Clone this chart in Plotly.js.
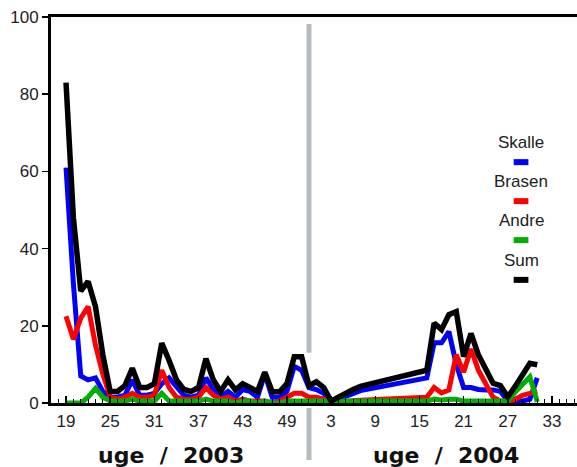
<!DOCTYPE html>
<html>
<head>
<meta charset="utf-8">
<script src="https://cdn.plot.ly/plotly-3.0.1.min.js"></script>
<style>html,body{margin:0;padding:0;background:#fff;}#chart{width:577px;height:467px;}</style>
</head>
<body>
<div id="chart"></div>
<script>
// ---- data ----
const weeks2003 = [19,20,21,22,23,24,25,26,27,28,29,30,31,32,33,34,35,36,37,38,39,40,41,42,43,44,45,46,47,48,49,50,51,52];
const skalle2003 = [61,31,7,6,6.5,3,1.5,1.5,2,6,2,2,2.5,5,6.5,4,2,1.5,2,6.5,3.5,1.5,3,1.5,3.5,3,1.5,7.5,1.5,1.5,3,9.5,8.5,4];
const brasen2003 = [22.5,16.5,22,25,15,7.5,1.5,1,1.5,2.5,1.5,1.5,2,8.5,4,1.5,1,1,1.5,4,2,1,1.5,0.5,1,0.5,0.5,0.5,0,0.5,1.5,2.5,2.5,1.5];
const andre2003  = [0,0,0,1.5,3.8,1.5,0.5,0.5,0.5,1,0.5,0.5,0.5,2.5,0.5,0.5,0.5,0.5,0.5,1,0.5,0.5,0.5,0,0.5,0.5,0,0.5,0,0,0.5,0.5,0.5,0.5];
const sum2003    = [83,48,29,31.5,25,12.5,3,3,4.5,9,4,4,5,15.5,11,6,3.5,3,4,11.5,6,3,6,3.4,5,4,3,8,2.9,2.9,5,12,12,4.5];

const weeks2004 = [1,2,3,4,5,6,7,16,17,18,19,20,21,22,23,24,25,26,27,28,29,30,31];
const skalle2004 = [3.5,2.5,0,1,1.8,2.6,3.2,6.5,15.6,15.6,18.5,10,4,4,3.5,3.4,3.4,3,0.5,0.5,0.5,1,6.5];
const brasen2004 = [1.5,1,0,0.3,0.5,0.6,0.7,1.5,4,2.6,3.4,12.5,8,14,8.5,5,1.5,0.5,0.3,1,2,2.5,3];
const andre2004  = [0.5,0.5,0.5,0.3,0.3,0.3,0.3,0.5,1,0.8,1,1,0.5,0.5,0.5,0.5,0.3,0.5,0.5,2.8,5,6.8,0.3];
const sum2004    = [5.5,4,0.5,1.5,2.6,3.5,4.3,8.5,20.7,19,22.9,23.7,12,18,12.5,9,5.1,4.5,1.6,4.3,7.5,10.3,9.9];

const tickWeeks2003 = [19,25,31,37,43,49];
const tickWeeks2004 = [3,9,15,21,27,33];
const seriesNames = ['Skalle','Brasen','Andre','Sum'];
const seriesColors = ['#0000ff','#ff0000','#00b000','#000000'];
const yTicks = [0,20,40,60,80,100];

// ---- continuous week index (2003 has 52 weeks) ----
const firstWeek = 19, weeksIn2003 = 52;
const idx2003 = w => w - firstWeek;
const idx2004 = w => w + weeksIn2003 - firstWeek;
const xAll = weeks2003.map(idx2003).concat(weeks2004.map(idx2004));

const seriesVals = [
  skalle2003.concat(skalle2004),
  brasen2003.concat(brasen2004),
  andre2003.concat(andre2004),
  sum2003.concat(sum2004)
];

const traces = seriesNames.map((n,k) => ({
  type:'scatter', mode:'lines', name:n, x:xAll, y:seriesVals[k],
  line:{color:seriesColors[k], width: k===3 ? 5.5 : 5},
  showlegend:false, hoverinfo:'x+y'
}));

const tickvals = tickWeeks2003.map(idx2003).concat(tickWeeks2004.map(idx2004));
const ticktext = tickWeeks2003.concat(tickWeeks2004).map(String);
const sepX = idx2003(weeksIn2003);

// legend (text above a short coloured stroke)
const legX = 61.8;
const legTextY = [67.6, 57.4, 47.4, 37.0];
const legMarkY = [62.4, 52.3, 42.2, 31.9];
const annotations = seriesNames.map((n,k) => ({
  x:legX, y:legTextY[k], xref:'x', yref:'y', text:n, showarrow:false,
  font:{family:'Liberation Sans, Arial, sans-serif', size:17, color:'#222'}
}));
const titleFont = {family:'DejaVu Sans, Verdana, sans-serif', size:22, color:'#111', weight:'bold'};
annotations.push(
  {x:0.228, y:-0.135, xref:'paper', yref:'paper', yanchor:'middle', xanchor:'center',
   text:'uge\u00A0\u00A0/\u00A0\u00A02003', showarrow:false, font:titleFont},
  {x:0.751, y:-0.135, xref:'paper', yref:'paper', yanchor:'middle', xanchor:'center',
   text:'uge\u00A0\u00A0/\u00A0\u00A02004', showarrow:false, font:titleFont}
);
const shapes = seriesColors.map((c,k) => ({
  type:'line', xref:'x', yref:'y', x0:legX-1.0, x1:legX+1.0, y0:legMarkY[k], y1:legMarkY[k],
  line:{color:c, width:6}
}));
shapes.push(
  {type:'line', xref:'x', yref:'paper', x0:sepX, x1:sepX, y0:0.982, y1:0.13, line:{color:'#b4bcc0', width:5}},
  {type:'line', xref:'x', yref:'paper', x0:sepX, x1:sepX, y0:-0.013, y1:-0.148, line:{color:'#b4bcc0', width:5}}
);

const layout = {
  width:577, height:467,
  margin:{l:51, r:0, t:17, b:64, pad:0},
  paper_bgcolor:'#fff', plot_bgcolor:'#fff',
  showlegend:false,
  xaxis:{
    range:[-2.04, 69.4], tickmode:'array', tickvals:tickvals, ticktext:ticktext,
    ticks:'inside', ticklen:7, tickwidth:1.5, tickcolor:'#000',
    minor:{dtick:1, tick0:0, ticks:'inside', ticklen:4, tickwidth:1, tickcolor:'#000'},
    showline:true, linecolor:'#000', linewidth:3, mirror:true,
    showgrid:false, zeroline:false, ticklabelstandoff:1,
    tickfont:{family:'Liberation Sans, Arial, sans-serif', size:17, color:'#222'}
  },
  yaxis:{
    range:[0,100], tickmode:'array', tickvals:yTicks,
    ticks:'outside', ticklen:6, tickwidth:1.5, tickcolor:'#000',
    showline:true, linecolor:'#000', linewidth:3, mirror:false,
    showgrid:false, zeroline:false,
    tickfont:{family:'Liberation Sans, Arial, sans-serif', size:17, color:'#222'}
  },
  annotations:annotations, shapes:shapes
};
Plotly.newPlot('chart', traces, layout, {staticPlot:true});
</script>
</body>
</html>
